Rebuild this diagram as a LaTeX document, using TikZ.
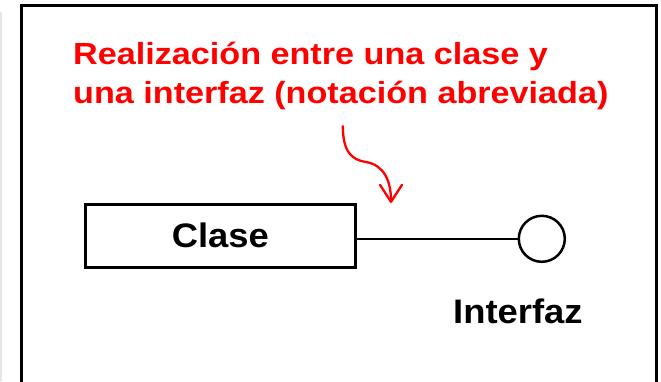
\documentclass[tikz,border=0pt]{standalone}
\usepackage{fontspec}
\setmainfont{Liberation Sans}
\newfontfamily\notefont{Liberation Sans}[FakeStretch=1.12]
\newfontfamily\umlfont{Liberation Sans}[FakeStretch=1.07]
\usetikzlibrary{arrows.meta, positioning}
\definecolor{notered}{HTML}{FF0000}
\definecolor{edgegray}{HTML}{E6E6E6}

\begin{document}
\begin{tikzpicture}[
    x=1pt, y=-1pt,
    every node/.style={inner sep=0pt},
    clsbox/.style={rectangle, draw, line width=3pt, minimum width=269.5pt,
                   minimum height=63.5pt, font=\umlfont\bfseries\fontsize{34}{40}\selectfont},
    lollipop/.style={circle, draw, line width=2.5pt, minimum size=46pt},
    lbl/.style={font=\umlfont\bfseries\fontsize{34}{40}\selectfont},
    note/.style={notered, align=left, font=\notefont\bfseries\fontsize{30.5}{39}\selectfont},
    lnk/.style={line width=2pt},
    callout/.style={notered, line width=2.3pt, line cap=round,
                    -{Straight Barb[length=17pt, width=22pt, round]}}
]
    \useasboundingbox (0,0) rectangle (661,381);
    \clip (0,0) rectangle (661,381);
    % page frame
    \draw[edgegray, line width=2pt] (1,12) -- (1,381);
    \draw[line width=3pt] (21.5,5.5) rectangle (656.5,400);
    % class and its interface
    \node[clsbox] (clase) at (220.3,235.8) {Clase};
    \node[lollipop, right=161pt of clase.east, yshift=-3pt, anchor=west] (ifz) {};
    \node[lbl, anchor=base west] (ifzlbl) at (453,323) {Interfaz};
    \draw[lnk] (clase.east |- ifz.west) -- (ifz.west);
    % note
    \node[note, anchor=north west] (nota) at (73,42)
        {Realización entre una clase y\\una interfaz (notación abreviada)};
    \coordinate (tip) at (391,203);
    \draw[callout] ([shift={(2,16)}]nota.south)
        .. controls +(0,26) and +(-14,-2) .. (366,162)
        .. controls +(18,3) and +(0,-22) .. (tip);
\end{tikzpicture}
\end{document}
